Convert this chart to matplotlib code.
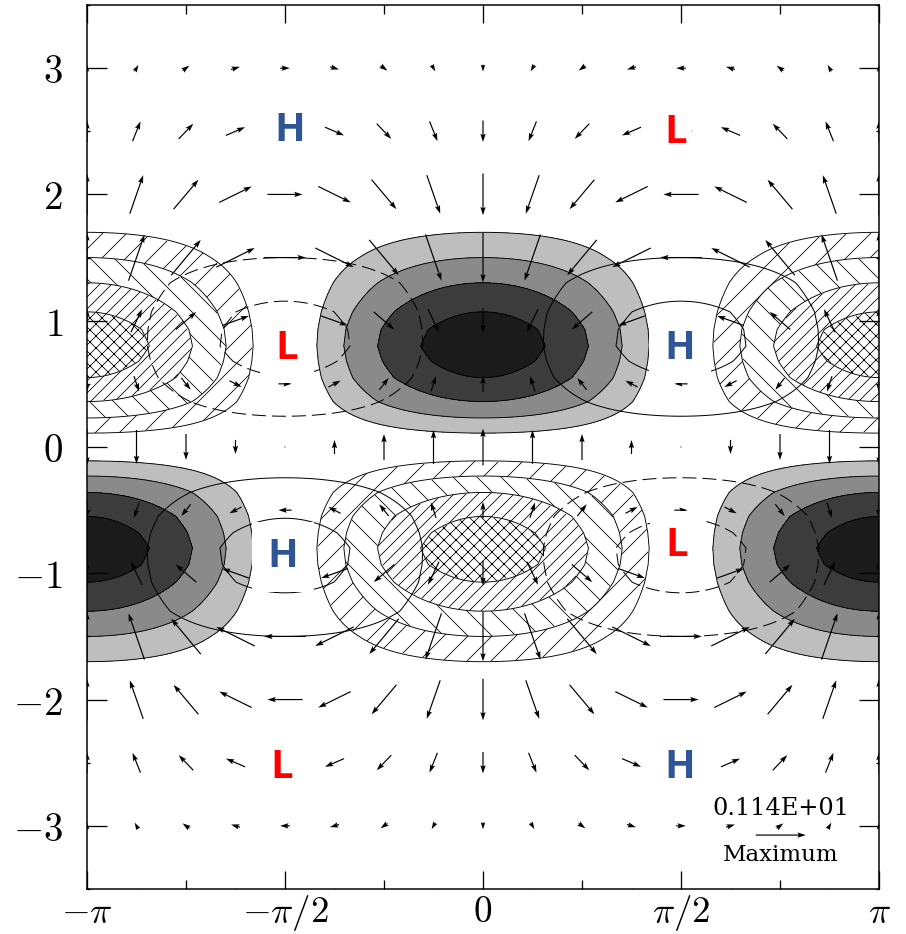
import numpy as np
import matplotlib
matplotlib.use('Agg')
import matplotlib.pyplot as plt

plt.rcParams['mathtext.fontset'] = 'cm'
plt.rcParams['hatch.color'] = 'black'
plt.rcParams['hatch.linewidth'] = 0.8

# ---------------- data ----------------
# meridional profiles (northern half); both fields are antisymmetric about the equator
prof_y = [0.0, 0.11, 0.23, 0.36, 0.55, 0.68, 0.80, 0.93, 1.07, 1.30, 1.50, 1.70, 2.00, 2.50, 3.00, 3.50]
shade_amp = [0.0, 0.25, 0.45, 0.67, 0.88, 0.96, 1.00, 0.97, 0.88, 0.67, 0.45, 0.25, 0.08, 0.015, 0.0, 0.0]
line_amp = [0.0, 0.22, 0.44, 0.63, 0.86, 0.95, 1.00, 0.99, 0.94, 0.75, 0.46, 0.22, 0.0, -0.15, -0.10, -0.04]

shade_levels = [0.25, 0.45, 0.67, 0.88]
line_levels = [0.46, 0.87]

# vector rows (y = -3 ... 3 step 0.5); u = U*sin(x), v = V*cos(x)
vec_rows = [-3.0, -2.5, -2.0, -1.5, -1.0, -0.5, 0.0, 0.5, 1.0, 1.5, 2.0, 2.5, 3.0]
U_rows = [0.22, 0.47, 0.80, 0.95, 0.66, 0.30, 0.0, -0.30, -0.66, -0.95, -0.80, -0.47, -0.22]
V_rows = [-0.16, -0.49, -0.95, -1.14, -0.57, 0.38, 0.84, 0.38, -0.57, -1.14, -0.95, -0.49, -0.16]
vec_max = 1.14

x_tick_vals = [-np.pi, -np.pi / 2, 0, np.pi / 2, np.pi]
x_tick_labels = [r'$-\pi$', r'$-\pi/2$', r'$0$', r'$\pi/2$', r'$\pi$']
y_tick_vals = [-3, -2, -1, 0, 1, 2, 3]
y_tick_labels = [r'$-3$', r'$-2$', r'$-1$', r'$0$', r'$1$', r'$2$', r'$3$']

hl_text = ['H', 'L', 'L', 'H', 'H', 'L', 'L', 'H']
hl_x = [-1.53, 1.53, -1.555, 1.563, -1.587, 1.539, -1.595, 1.563]
hl_y = [2.51, 2.49, 0.78, 0.78, -0.87, -0.78, -2.54, -2.54]
hl_boxed = [False, False, True, True, True, True, False, False]

# ---------------- build fields ----------------
py = np.array(prof_y)
y_full = np.concatenate([-py[:0:-1], py])
shade_full = np.concatenate([-np.array(shade_amp)[:0:-1], np.array(shade_amp)])
line_full = np.concatenate([-np.array(line_amp)[:0:-1], np.array(line_amp)])
xg = np.linspace(-np.pi, np.pi, 361)
Zs = shade_full[:, None] * np.cos(xg)[None, :]
Zp = line_full[:, None] * np.sin(xg)[None, :]

xv = np.arange(-8, 9) * np.pi / 8
yv = np.array(vec_rows)
Xv, Yv = np.meshgrid(xv, yv)
Uv = np.array(U_rows)[:, None] * np.sin(xv)[None, :]
Vv = np.array(V_rows)[:, None] * np.cos(xv)[None, :]

# ---------------- figure ----------------
DPI = 72
fig = plt.figure(figsize=(906 / DPI, 934 / DPI), dpi=DPI)
ax = fig.add_axes([87 / 906, 45 / 934, 792 / 906, 884 / 934])
ax.set_xlim(-np.pi, np.pi)
ax.set_ylim(-3.5, 3.5)

L = shade_levels
fill_levels = [-5, -L[3], -L[2], -L[1], -L[0], L[0], L[1], L[2], L[3], 5]
fill_colors = ['white', 'white', 'white', 'white', 'white',
               '#bebebe', '#8a8a8a', '#3c3c3c', '#1b1b1b']
fill_hatches = ['xx', '//', '\\', '/', '', '', '', '', '']
ax.contourf(xg, y_full, Zs, levels=fill_levels, colors=fill_colors,
            hatches=fill_hatches, zorder=1)
ax.contour(xg, y_full, Zs, levels=fill_levels[1:-1], colors='black',
           linewidths=0.9, linestyles='solid', zorder=2)

pl = [-line_levels[1], -line_levels[0], line_levels[0], line_levels[1]]
ax.contour(xg, y_full, Zp, levels=pl, colors='black', linewidths=1.0,
           linestyles=[(0, (14, 6)), (0, (14, 6)), 'solid', 'solid'], zorder=3)

Q = ax.quiver(Xv, Yv, Uv, Vv, pivot='middle', angles='uv',
              scale_units='inches', scale=vec_max / (50 / 72),
              width=0.0015, headwidth=4.5, headlength=7, headaxislength=6,
              color='black', zorder=4)
ax.quiverkey(Q, 0.876, 0.061, vec_max, 'Maximum', labelpos='S',
             coordinates='axes', labelsep=0.12,
             fontproperties={'family': 'DejaVu Serif', 'size': 23})
ax.text(0.876, 0.091, '0.114E+01', transform=ax.transAxes, ha='center',
        va='center', fontsize=24, family='DejaVu Serif')

for t, x, y, b in zip(hl_text, hl_x, hl_y, hl_boxed):
    col = '#2f5597' if t == 'H' else '#ff0000'
    pad = 0.38 if b else 0.1
    ax.text(x, y, t, color=col, fontsize=40, fontweight='bold', family='Open Sans',
            ha='center', va='center', zorder=10,
            bbox=dict(boxstyle='square,pad=%g' % pad, fc='white', ec='none'))

# ---------------- axes / ticks ----------------
for s in ax.spines.values():
    s.set_linewidth(1.5)
ax.set_xticks(x_tick_vals)
ax.set_xticklabels(x_tick_labels, fontsize=37)
ax.set_xticks([-3 * np.pi / 4, -np.pi / 4, np.pi / 4, 3 * np.pi / 4], minor=True)
ax.set_yticks(y_tick_vals)
ax.set_yticklabels(y_tick_labels, fontsize=39)
ax.set_yticks([-3.5, -2.5, -1.5, -0.5, 0.5, 1.5, 2.5, 3.5], minor=True)
ax.tick_params(which='both', direction='in', top=True, right=True, width=1.3)
ax.tick_params(axis='x', which='major', length=18, pad=4)
ax.tick_params(axis='y', which='major', length=20, pad=24)
ax.tick_params(axis='x', which='minor', length=9)
ax.tick_params(axis='y', which='minor', length=3)

for side in ('bottom', 'top'):
    sec = ax.secondary_xaxis(side)
    sec.set_xticks(np.arange(-7, 8, 2) * np.pi / 8)
    sec.tick_params(direction='in', length=3, width=1.2,
                    labelbottom=False, labeltop=False)
    sec.spines[side].set_visible(False)

fig.savefig('out.png', dpi=DPI)
